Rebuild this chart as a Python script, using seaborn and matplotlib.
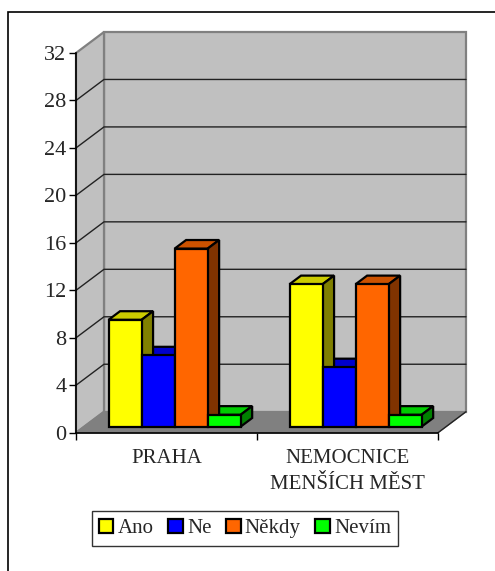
import matplotlib
matplotlib.use("Agg")
import matplotlib.pyplot as plt
from matplotlib.patches import Polygon, Patch, Rectangle
from matplotlib.transforms import Affine2D
from matplotlib.colors import to_rgb
import seaborn as sns
import pandas as pd

# --- data -------------------------------------------------------------
mista = ["PRAHA", "NEMOCNICE\nMENŠÍCH MĚST"]
odpovedi = ["Ano", "Ne", "Někdy", "Nevím"]
praha = [9, 6, 15, 1]
mensi_mesta = [12, 5, 12, 1]
barvy = ["#FFFF00", "#0000FF", "#FF6600", "#00FF00"]
y_ticks = [0, 4, 8, 12, 16, 20, 24, 28, 32]

df = pd.DataFrame({
    "misto": [mista[0]] * 4 + [mista[1]] * 4,
    "odpoved": odpovedi * 2,
    "pocet": praha + mensi_mesta,
})

sns.set_style("white")
plt.rcParams["font.family"] = ["Liberation Serif", "DejaVu Serif"]

W, H = 495, 571
fig = plt.figure(figsize=(W / 100, H / 100), dpi=100)
fig.patch.set_facecolor("white")
ax = fig.add_axes([76 / W, 1 - 432.7 / H, 362 / W, 379.7 / H])
ax.set_facecolor("none")

sns.barplot(data=df, x="misto", y="pocet", hue="odpoved", order=mista,
            hue_order=odpovedi, palette=barvy, saturation=1, width=0.73,
            gap=0, errorbar=None, edgecolor="black", linewidth=1.6,
            legend=False, ax=ax)

ax.set_xlim(-0.5, 1.5)
ax.set_ylim(0, 32)

# depth of the 3-D box expressed in data units
sx = ax.bbox.width / 2.0
sy = ax.bbox.height / 32.0
DX, DY = 28 / sx, 21 / sy
F0, F1 = 0.29, 0.70          # front / back plane of the bars

wall = "#C0C0C0"
wall_edge = "#808080"
# back wall
ax.add_patch(Polygon([(-0.5 + DX, DY), (1.5 + DX, DY), (1.5 + DX, 32 + DY),
                      (-0.5 + DX, 32 + DY)], closed=True, facecolor=wall,
                     edgecolor=wall_edge, lw=1.6, clip_on=False, zorder=0.5))
# side wall
ax.add_patch(Polygon([(-0.5, 0), (-0.5 + DX, DY), (-0.5 + DX, 32 + DY),
                      (-0.5, 32)], closed=True, facecolor=wall,
                     edgecolor=wall_edge, lw=1.6, clip_on=False, zorder=0.5))
# floor
ax.add_patch(Polygon([(-0.5, 0), (1.5, 0), (1.5 + DX, DY), (-0.5 + DX, DY)],
                     closed=True, facecolor="#808080", edgecolor="#808080",
                     lw=1.0, clip_on=False, zorder=0.6))
# gridlines on both walls
for v in y_ticks[1:-1]:
    ax.plot([-0.5, -0.5 + DX, 1.5 + DX], [v, v + DY, v + DY], color="#222222",
            lw=1.0, clip_on=False, zorder=0.7)
# floor right edge
ax.plot([1.5, 1.5 + DX], [0, DY], color="#222222", lw=1.0, clip_on=False,
        zorder=0.7)

# 3-D bars: shift seaborn's bars to the front plane and add top/side faces
shift = Affine2D().translate(F0 * DX, F0 * DY)
bars = [p for p in ax.patches if isinstance(p, Rectangle) and p.get_height() > 0]
for p in bars:
    x0, w, h = p.get_x(), p.get_width(), p.get_height()
    fc = to_rgb(p.get_facecolor())
    top_c = tuple(c * 0.8 for c in fc)
    side_c = tuple(c * 0.5 for c in fc)
    fx, fy = F0 * DX, F0 * DY
    bx, by = F1 * DX, F1 * DY
    top = [(x0 + fx, h + fy), (x0 + w + fx, h + fy), (x0 + w + bx, h + by),
           (x0 + bx, h + by)]
    side = [(x0 + w + fx, fy), (x0 + w + bx, by), (x0 + w + bx, h + by),
            (x0 + w + fx, h + fy)]
    ax.add_patch(Polygon(top, closed=True, facecolor=top_c, edgecolor="black",
                         lw=1.6, joinstyle="miter", clip_on=False, zorder=2))
    ax.add_patch(Polygon(side, closed=True, facecolor=side_c, edgecolor="black",
                         lw=1.6, joinstyle="miter", clip_on=False, zorder=2.5))
    p.set_transform(shift + ax.transData)
    p.set_clip_on(False)
    p.set_zorder(3)
    p.set_joinstyle("miter")

# axes
for s in ["top", "right"]:
    ax.spines[s].set_visible(False)
for s in ["left", "bottom"]:
    ax.spines[s].set_color("black")
    ax.spines[s].set_linewidth(1.2)
    ax.spines[s].set_zorder(1)

ax.set_yticks(y_ticks)
ax.set_yticklabels([str(v) for v in y_ticks])
ax.tick_params(axis="y", which="major", direction="out", length=5, width=1,
               color="black", pad=2, labelsize=16, left=True)
ax.set_xticks([0, 1])
ax.set_xticklabels(mista, linespacing=1.45)
ax.set_xticks([-0.5, 0.5, 1.5], minor=True)
ax.tick_params(axis="x", which="major", length=0, pad=12, labelsize=15)
ax.tick_params(axis="x", which="minor", direction="out", length=5, width=1,
               color="black", bottom=True)
ax.set_xlabel("")
ax.set_ylabel("")

# legend
handles = [Patch(facecolor=c, edgecolor="black", linewidth=1.6, label=o)
           for c, o in zip(barvy, odpovedi)]
leg = fig.legend(handles=handles, loc="center", ncol=4, fontsize=15,
                 bbox_to_anchor=(245 / W, 1 - 528.5 / H), frameon=True,
                 fancybox=False, edgecolor="#333333", framealpha=1,
                 handlelength=0.7, handleheight=0.7, handletextpad=0.2,
                 columnspacing=0.7, borderpad=0.35, borderaxespad=0)
leg.get_frame().set_linewidth(1.0)

# outer frame of the chart area
fig.add_artist(Rectangle((8 / W, -0.1), 1.2, 1.1 - 12 / H, transform=fig.transFigure,
                         fill=False, edgecolor="black", lw=1.2))

fig.savefig("out.png", dpi=100)
